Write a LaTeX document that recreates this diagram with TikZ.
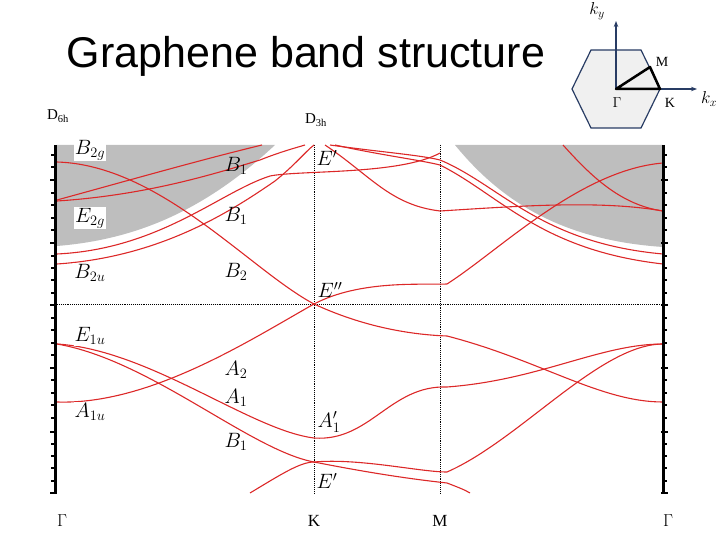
\documentclass[tikz,border=0pt]{standalone}
\usepackage{amsmath}
\usepackage{fontspec}
\setsansfont{Liberation Sans}
\setmainfont{Liberation Serif}
\usepackage{tikz}
\usetikzlibrary{calc}
\usetikzlibrary{positioning}
\usetikzlibrary{arrows.meta}
\definecolor{bandred}{RGB}{220,40,40}
\definecolor{gapgrey}{RGB}{190,190,190}
\definecolor{bznavy}{RGB}{40,60,100}
\tikzset{
  band/.style={bandred, line width=1.1pt},
  irrep/.style={inner sep=1pt, fill=white, font=\fontsize{22}{22}\selectfont},
  sym/.style={inner sep=0pt, font=\fontsize{17}{17}\selectfont},
  kpath/.style={black, densely dotted, line width=0.9pt}
}
\begin{document}
\begin{tikzpicture}[x=1pt,y=-1pt]
				\useasboundingbox (0,0) rectangle (720,540);
				% title and groups
				\node[font=\sffamily\fontsize{43}{43}\selectfont] (title) at (306,56) {Graphene band structure};
				\node[sym, font=\fontsize{15}{15}\selectfont] (d6h) at (58,116) {D$_{\text{6h}}$};
				\node[sym, font=\fontsize{15}{15}\selectfont] (d3h) at (316,120) {D$_{\text{3h}}$};
				
				% grey regions
				\fill[gapgrey] (57,145) -- (275,145) .. controls (200,215) and (130,240) .. (57,246) -- cycle;
				\fill[gapgrey] (455,145) -- (663,145) -- (663,247) .. controls (560,240) and (500,200) .. (455,145) -- cycle;
				\draw[white, line width=3pt] (279,145) .. controls (204,217) and (132,244) .. (57,250);
				\draw[white, line width=3pt] (451,145) .. controls (497,203) and (558,244) .. (663,251);
				
				% k-path lines
				\coordinate (Kt) at (314,145);
				\coordinate (Kb) at (314,493);
				\coordinate (Mt) at (440,145);
				\coordinate (Mb) at (440,493);
				\coordinate (Fl) at (57,304);
				\coordinate (Fr) at (663,304);
				\draw[kpath] (Kt) -- (Kb);
				\draw[kpath] (Mt) -- (Mb);
				\draw[kpath] (Fl) -- (Fr);
				
				% bands
				\draw[band] (57,162) .. controls (160,165) and (250,270) .. (314,304) .. controls (370,330) and (420,335) .. (447,336) .. controls (540,360) and (600,402) .. (663,402);
				\draw[band] (57,200) .. controls (130,180) and (200,160) .. (262,145);
				\draw[band] (57,201) .. controls (150,195) and (220,172) .. (260,160) .. controls (280,152) and (295,148) .. (305,145);
				\draw[band] (57,254) .. controls (160,249) and (220,192) .. (270,176) .. controls (300,170) and (400,175) .. (440,153);
				\draw[band] (57,264) .. controls (160,257) and (230,212) .. (275,181) .. controls (295,165) and (305,152) .. (314,145);
				\draw[band] (325,145) .. controls (370,175) and (390,205) .. (440,211) .. controls (520,206) and (600,200) .. (663,211);
				\draw[band] (330,145) .. controls (380,152) and (420,155) .. (440,160) .. controls (500,185) and (540,243) .. (663,254);
				\draw[band] (335,145) .. controls (380,155) and (420,160) .. (440,165) .. controls (500,195) and (540,250) .. (663,264);
				\draw[band] (563,145) .. controls (590,175) and (620,205) .. (663,211);
				\draw[band] (57,402) .. controls (150,405) and (250,340) .. (314,304) .. controls (360,280) and (420,285) .. (447,284) .. controls (500,250) and (580,170) .. (663,163);
				\draw[band] (57,344) .. controls (150,350) and (250,430) .. (314,438) .. controls (370,442) and (390,385) .. (447,387) .. controls (540,380) and (600,344) .. (663,344);
				\draw[band] (57,344) .. controls (150,360) and (250,450) .. (314,462) .. controls (380,475) and (420,480) .. (447,483) .. controls (460,488) and (465,490) .. (470,493);
				\draw[band] (250,493) .. controls (280,475) and (300,462) .. (314,462) .. controls (360,458) and (420,472) .. (447,472) .. controls (520,440) and (600,344) .. (663,344);
				
				% axes with ticks
				\draw[line width=3pt] (55,145) -- (55,493);
				\draw[line width=3pt] (663,145) -- (663,493);
				\foreach \y in {180,243,305,368,432,493} {
					\draw[line width=2.5pt] (50,\y) -- (57,\y);
					\draw[line width=2.5pt] (661,\y) -- (668,\y);
				}
				\foreach \y in {155,167,193,205,218,230,256,268,280,293,318,330,343,355,380,393,405,418,444,456,468,481} {
					\draw[line width=2pt] (51,\y) -- (55,\y);
					\draw[line width=2pt] (663,\y) -- (667,\y);
				}
				
				% irreps at Gamma
				\node[irrep] (b2g) at (90,150) {$B_{2g}$};
				\node[irrep] (e2g) at (90,218) {$E_{2g}$};
				\node[irrep] (b2u) at (90,273) {$B_{2u}$};
				\node[irrep] (e1u) at (90,336) {$E_{1u}$};
				\node[irrep] (a1u) at (90,412) {$A_{1u}$};
				% irreps along Gamma-K
				\node[irrep, fill=none] (b1a) at (236,166) {$B_1$};
				\node[irrep, fill=none] (b1b) at (236,216) {$B_1$};
				\node[irrep, fill=none] (b2) at (236,272) {$B_2$};
				\node[irrep, fill=none] (a2) at (236,370) {$A_2$};
				\node[irrep, fill=none] (a1) at (236,398) {$A_1$};
				\node[irrep, fill=none] (b1c) at (236,442) {$B_1$};
				% irreps at K
				\node[irrep, fill=none] (ep1) at (327,158) {$E'$};
				\node[irrep, fill=none] (epp) at (330,290) {$E''$};
				\node[irrep, fill=none] (a1p) at (329,422) {$A_1'$};
				\node[irrep, fill=none] (ep2) at (327,481) {$E'$};
				
				% k-point labels
				\node[sym] (g1) at (62,521) {$\Gamma$};
				\node[sym] (k1) at (314,521) {K};
				\node[sym] (m1) at (440,521) {M};
				\node[sym] (g2) at (668,521) {$\Gamma$};
				
				% Brillouin zone
				\coordinate (G) at (616,89);
				\draw[bznavy, fill=gray!12, line width=1.2pt] (572,89) -- (591,50) -- (641,50) -- (660,89) -- (641,128) -- (591,128) -- cycle;
				\coordinate (ky) at (616,21);
				\coordinate (kx) at (697,89);
				\draw[bznavy, line width=1.2pt, -{Stealth[length=6pt]}] (G) -- (ky);
				\draw[bznavy, line width=1.2pt, -{Stealth[length=6pt]}] (G) -- (kx);
				\coordinate (K) at (660,89);
				\coordinate (M) at (650,67);
				\draw[line width=2.5pt, line join=round] (G) -- (M) -- (K) -- cycle;
				\node[sym, font=\fontsize{14}{14}\selectfont] (gl) at (617,103) {$\Gamma$};
				\node[sym, font=\fontsize{14}{14}\selectfont] (kl) at (670,103) {K};
				\node[sym, font=\fontsize{14}{14}\selectfont] (ml) at (662,62) {M};
				\node[sym] (kyl) at (597,11) {$k_y$};
				\node[sym] (kxl) at (709,99) {$k_x$};
			\end{tikzpicture}
\end{document}
